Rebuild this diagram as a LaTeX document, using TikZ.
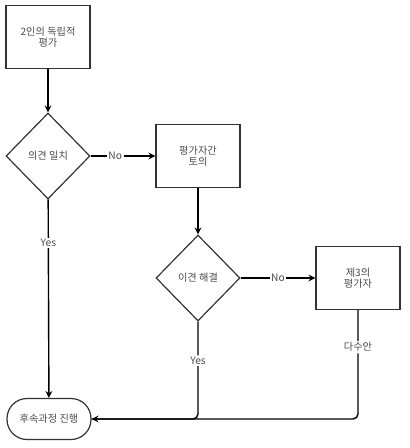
\documentclass[tikz,border=0pt]{standalone}
\usepackage{fontspec}
\setmainfont{Noto Sans CJK KR}
\usetikzlibrary{shapes.geometric,arrows.meta}
\begin{document}
\begin{tikzpicture}[x=1pt,y=-1pt,
  every node/.style={font=\fontsize{10.2}{11.5}\selectfont, text=black!70, align=center},
  procbox/.style={draw=black!80, line width=1.2pt, fill=white, minimum width=84pt, minimum height=63pt, inner sep=0pt},
  decision/.style={draw=black!80, line width=1.2pt, fill=white, diamond, minimum width=84pt, minimum height=86pt, inner sep=0pt},
  termin/.style={draw=black!80, line width=1.2pt, fill=white, rounded corners=20pt, minimum width=84pt, minimum height=41pt, inner sep=0pt},
  conn/.style={draw=black, line width=1.4pt, -{Stealth[length=7pt,width=7pt,inset=2.5pt]}},
  lbl/.style={fill=white, inner sep=1.5pt}
]
\useasboundingbox (0,0) rectangle (410,448);
\node[procbox] (eval) at (48,37) {2인의 독립적\\평가};
\node[decision] (agree) at (48,156) {의견 일치};
\node[procbox] (disc) at (198,156) {평가자간\\토의};
\node[decision] (resolve) at (198,278) {이견 해결};
\node[procbox] (third) at (358,278) {제3의\\평가자};
\node[termin] (next) at (49,419) {후속과정 진행};
\coordinate (m2) at (198,419);
\coordinate (m3) at (358,419);

\draw[conn] (eval) -- (agree);
\draw[conn] (agree) -- node[lbl, pos=0.38]{No} (disc);
\draw[conn] (disc) -- (resolve);
\draw[conn] (resolve) -- node[lbl]{No} (third);
\draw[conn] (agree) -- node[lbl, pos=0.22]{Yes} (next);
\draw[line width=1.4pt, rounded corners=5pt] (resolve.south) -- node[lbl, pos=0.40]{Yes} (m2) -- (next.east);
\draw[conn, rounded corners=5pt] (third.south) -- node[lbl, pos=0.34]{다수안} (m3) -- (next.east);
\end{tikzpicture}
\end{document}
